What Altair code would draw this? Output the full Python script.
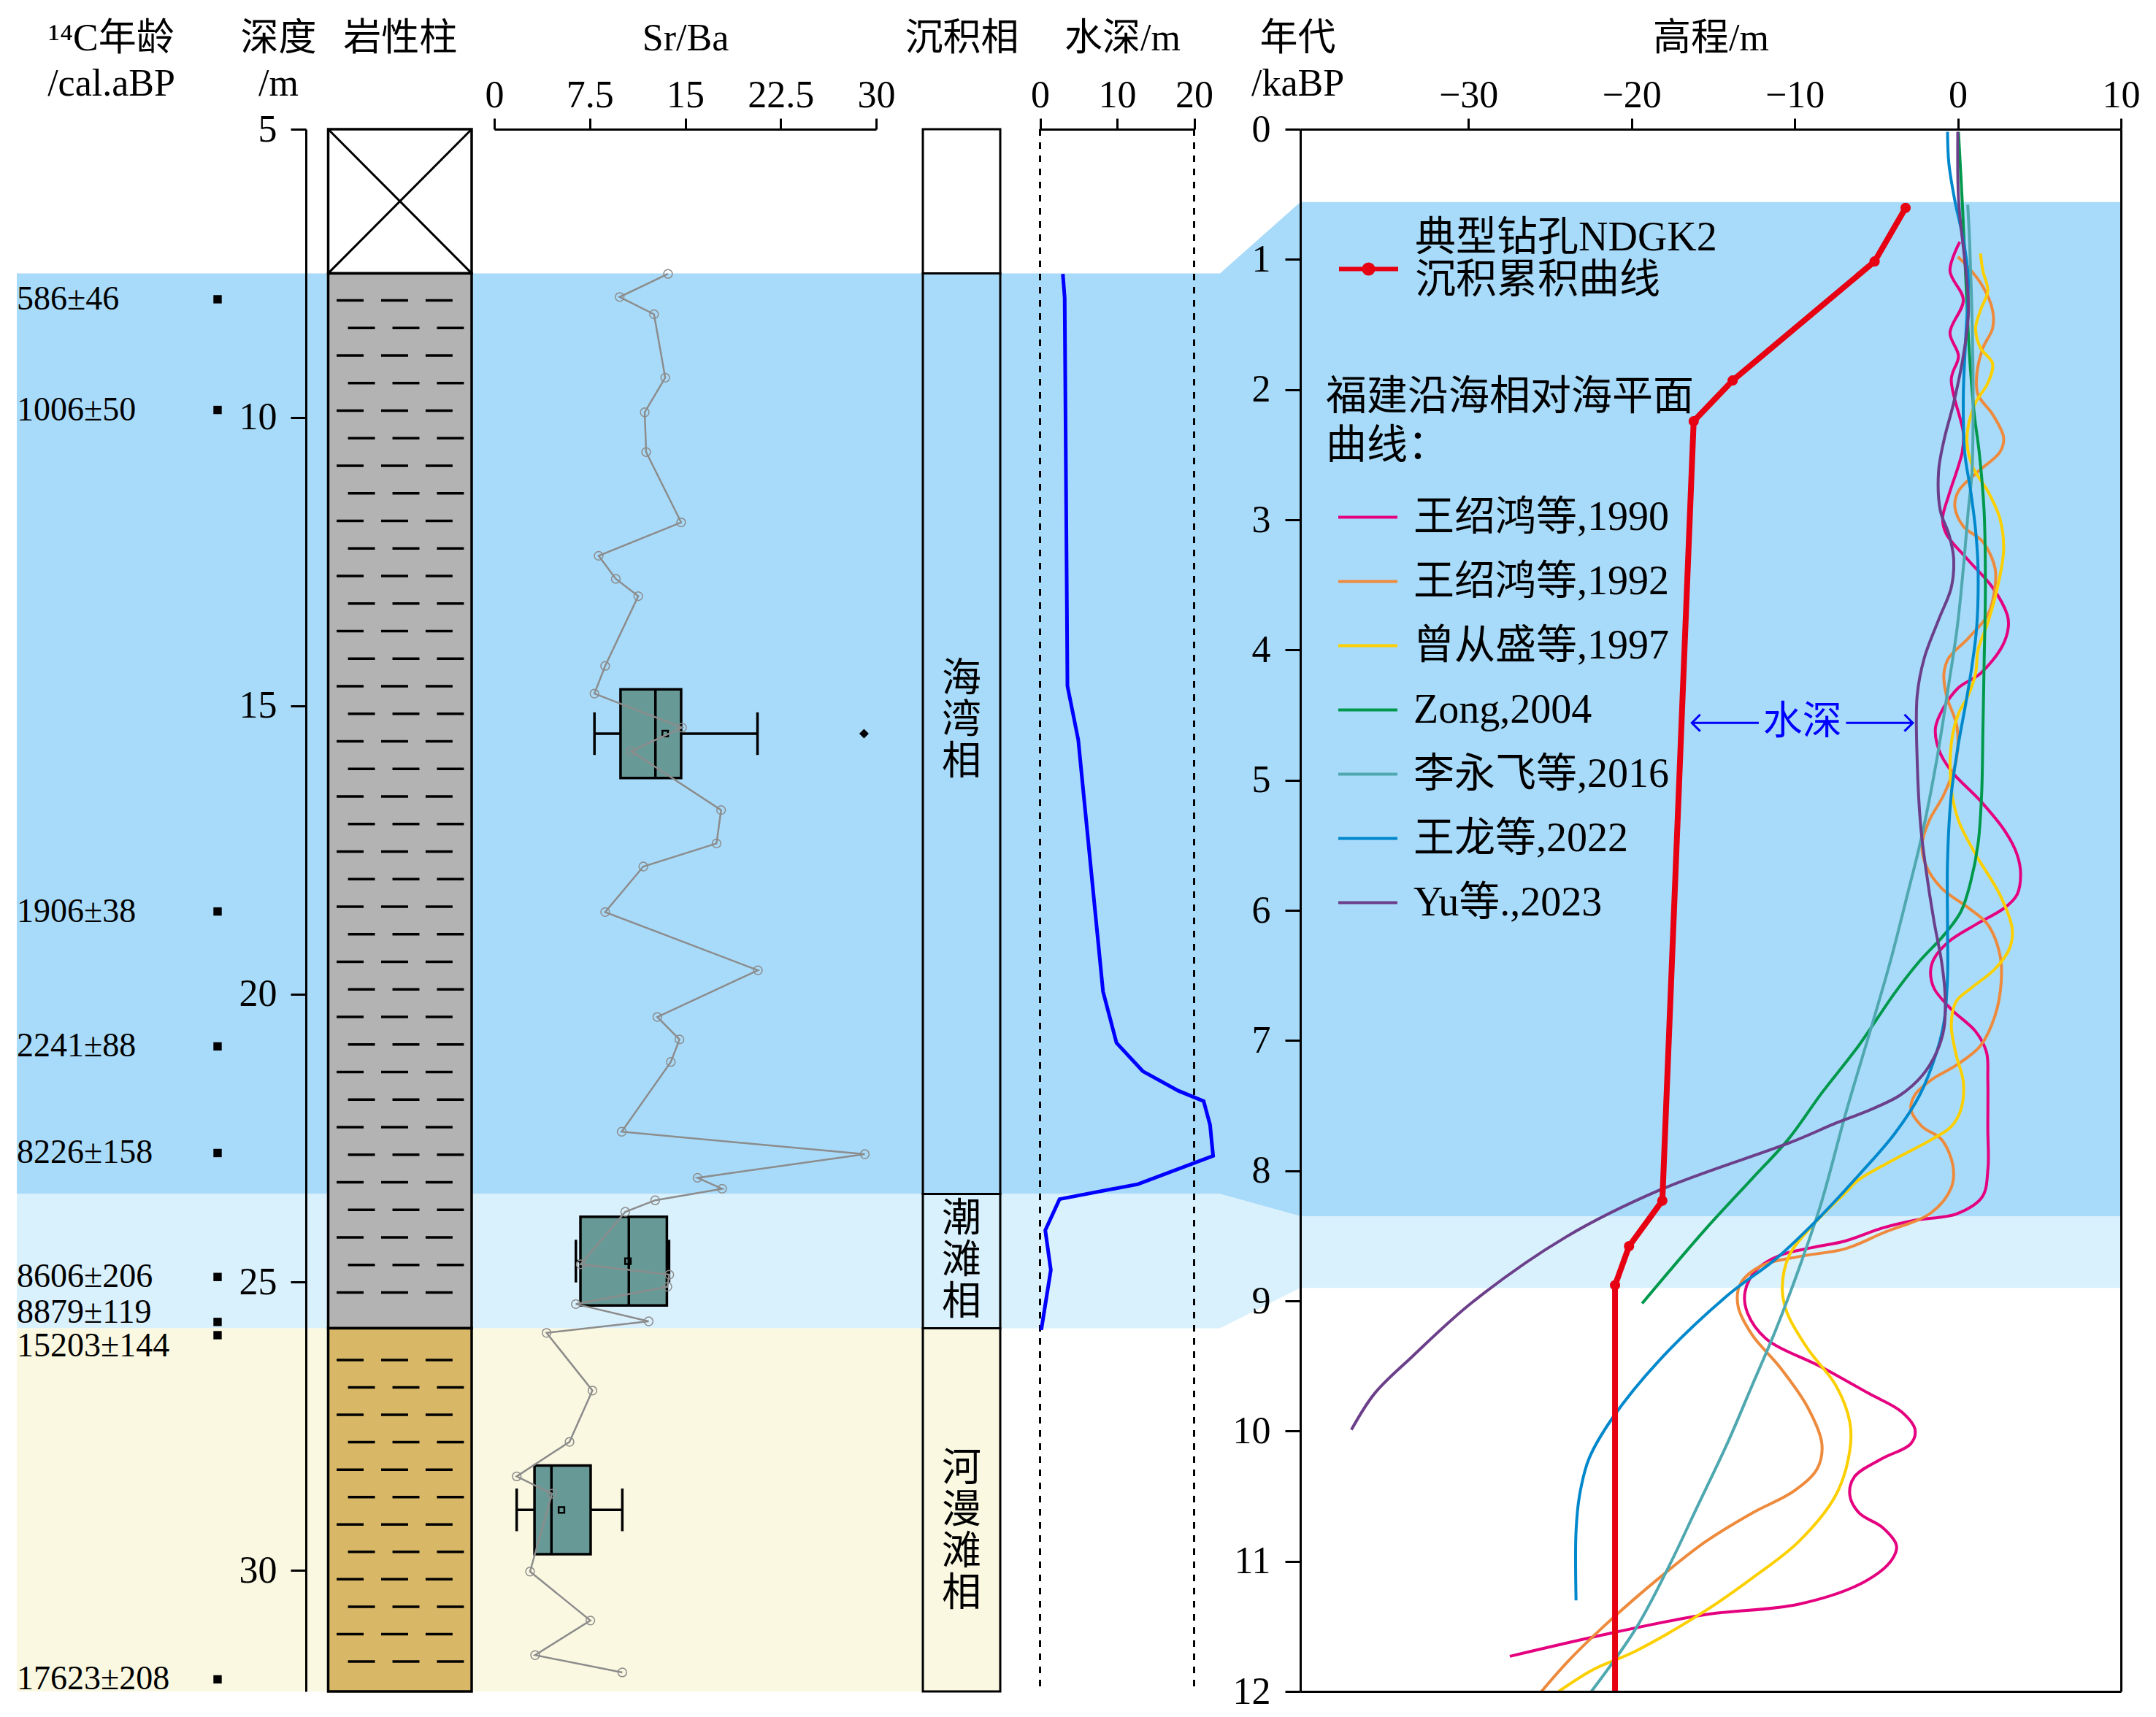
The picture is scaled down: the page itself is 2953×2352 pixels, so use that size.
import altair as alt
import pandas as pd

FONT = "Liberation Serif, Noto Sans CJK SC"

# ---------------- data ----------------
facies_names = ["海湾相", "潮滩相", "河漫滩相"]
facies_top = [7.5, 23.47, 25.8]
facies_bottom = [23.47, 25.8, 32.1]
band_colors = ["#A8DBFA", "#D9F0FD", "#FAF8E1"]

lith_top = [5.0, 7.5, 25.8]
lith_bottom = [7.5, 25.8, 32.1]
lith_fill = ["#FFFFFF", "#B3B3B3", "#D8B766"]

age_band_top = [0.56, 8.35]
age_band_bottom = [8.35, 8.9]

date_labels = ["586±46", "1006±50", "1906±38", "2241±88", "8226±158",
               "8606±206", "8879±119", "15203±144", "17623±208"]
date_depth = [7.95, 9.87, 18.57, 20.91, 22.76, 24.91, 25.69, 25.92, 31.89]

srba_depth = [7.51, 7.91, 8.21, 9.31, 9.91, 10.60, 11.82, 12.40, 12.80, 13.10,
              14.31, 14.79, 15.38, 15.79, 16.81, 17.39, 17.79, 18.58, 19.59, 20.40,
              20.79, 21.18, 22.39, 22.78, 23.19, 23.38, 23.58, 23.78, 24.69, 24.87,
              25.08, 25.38, 25.68, 25.88, 26.88, 27.77, 28.37, 28.67, 30.02, 30.87,
              31.47, 31.77]
srba_value = [13.65, 9.85, 12.55, 13.43, 11.82, 11.93, 14.68, 8.20, 9.55, 11.31,
              8.71, 7.87, 14.75, 10.76, 17.82, 17.46, 11.71, 8.71, 20.71, 12.81,
              14.55, 13.87, 10.01, 29.11, 15.97, 17.90, 12.64, 10.29, 6.79, 13.75,
              13.60, 6.41, 12.13, 4.11, 7.71, 5.91, 1.76, 4.53, 2.81, 7.55,
              3.21, 10.06]

box_lo = [7.87, 6.41, 1.76]
box_q1 = [9.92, 6.77, 3.16]
box_median = [12.66, 10.57, 4.49]
box_q3 = [14.68, 13.56, 7.57]
box_hi = [20.68, 13.73, 10.06]
box_mean = [13.43, 10.50, 5.28]
outlier_value = [29.05]

wd_depth = [7.51, 7.93, 14.66, 15.59, 19.96, 20.85, 21.34, 21.68, 21.86, 22.27,
            22.81, 23.30, 23.56, 24.10, 24.79, 25.83]
wd_value = [2.96, 3.20, 3.56, 4.96, 8.18, 9.93, 13.33, 17.95, 21.24, 22.07,
            22.47, 12.71, 2.53, 0.68, 1.40, 0.16]

ndgk2_age = [0.604, 1.016, 1.930, 2.243, 8.23, 8.58, 8.88, 12.0]
ndgk2_elev = [-3.20, -5.10, -13.80, -16.19, -18.11, -20.15, -21.01, -21.01]

wang1990_age = [0.866, 1.089, 1.311, 1.564, 1.742, 1.92, 2.335, 2.48, 2.81, 2.99,
                3.11, 3.31, 3.52, 3.73, 3.82, 3.97, 4.18, 4.29, 4.45, 4.60,
                4.77, 4.93, 5.16, 5.39, 5.57, 5.72, 5.88, 5.98, 6.11, 6.24,
                6.37, 6.47, 6.60, 6.76, 6.93, 7.09, 7.30, 7.68, 7.98, 8.20,
                8.33, 8.38, 8.44, 8.54, 8.59, 8.65, 8.76, 8.93, 9.09, 9.29,
                9.51, 9.71, 9.85, 9.99, 10.10, 10.21, 10.35, 10.49, 10.63, 10.74,
                10.88, 10.99, 11.16, 11.33, 11.41, 11.55, 11.73]
wang1990_elev = [0.12, -0.48, 0.34, -0.48, 0.04, -0.40, 0.34, 0.27, -0.55, -0.93,
                 -0.70, 0.64, 2.13, 3.03, 3.10, 2.73, 1.39, 0.04, -0.90, -1.37,
                 -1.15, -0.40, 1.39, 2.88, 3.63, 3.85, 3.63, 2.88, 1.09, -0.55,
                 -1.45, -1.67, -1.45, -0.40, 1.09, 1.76, 1.84, 1.84, 1.85, 1.50,
                 -0.05, -2.62, -4.62, -6.90, -8.90, -10.90, -12.33, -13.04, -12.90, -11.76,
                 -8.33, -5.47, -3.47, -2.62, -2.90, -4.62, -6.33, -6.62, -6.04, -4.62,
                 -3.76, -4.05, -5.76, -9.76, -15.47, -21.18, -27.46]

wang1992_age = [0.98, 1.06, 1.21, 1.39, 1.53, 1.68, 1.89, 2.04, 2.19, 2.37,
                2.48, 2.63, 2.78, 2.90, 3.05, 3.17, 3.37, 3.52, 3.73, 3.91,
                4.06, 4.18, 4.35, 4.59, 4.85, 5.11, 5.31, 5.49, 5.65, 5.83,
                5.98, 6.11, 6.34, 6.55, 6.81, 7.04, 7.19, 7.30, 7.42, 7.53,
                7.66, 7.76, 7.96, 8.13, 8.32, 8.48, 8.60, 8.66, 8.73, 8.87,
                9.04, 9.26, 9.51, 9.82, 10.10, 10.29, 10.46, 10.63, 10.85, 11.13,
                11.44, 11.75, 12.0]
wang1992_elev = [0.00, 0.64, 1.54, 2.13, 2.13, 1.54, 1.16, 1.24, 2.13, 2.81,
                 2.58, 1.24, 0.04, -0.18, 0.34, 1.54, 2.28, 2.28, 1.84, 0.64,
                 -0.55, -0.85, -0.70, -0.05, -0.10, -0.85, -1.75, -2.19, -1.97, -1.00,
                 0.64, 1.84, 2.58, 2.66, 2.28, 1.39, -0.10, -1.60, -2.64, -2.87,
                 -2.19, -1.00, -0.30, -0.40, -1.60, -4.62, -6.90, -9.76, -12.04, -13.33,
                 -13.47, -12.61, -10.90, -9.19, -8.33, -8.62, -10.04, -12.61, -15.47, -18.32,
                 -21.18, -23.75, -25.52]

zeng1997_age = [0.955, 1.09, 1.24, 1.39, 1.53, 1.68, 1.80, 1.95, 2.10, 2.28,
                2.42, 2.60, 2.78, 2.99, 3.23, 3.52, 3.79, 4.00, 4.18, 4.35,
                4.49, 4.72, 5.06, 5.31, 5.57, 5.88, 6.14, 6.29, 6.45, 6.60,
                6.70, 6.88, 7.11, 7.32, 7.53, 7.66, 7.76, 7.91, 8.07, 8.17,
                8.42, 8.65, 8.90, 9.09, 9.37, 9.65, 9.93, 10.15, 10.49, 10.85,
                11.13, 11.38, 11.69, 11.83, 12.0]
zeng1997_elev = [1.39, 1.54, 1.84, 1.39, 1.09, 1.39, 2.13, 1.84, 1.09, 0.64,
                 0.57, 0.94, 1.84, 2.58, 2.81, 2.43, 1.84, 1.24, 1.09, 0.64,
                 0.04, -0.40, -0.40, 0.04, 1.09, 2.58, 3.33, 3.18, 2.28, 0.79,
                 -0.10, -0.40, -0.10, 0.34, 0.19, -0.40, -1.60, -3.84, -6.08, -6.90,
                 -8.90, -10.33, -10.76, -10.47, -9.19, -7.47, -6.62, -6.62, -7.47, -9.76,
                 -12.61, -15.47, -19.75, -22.32, -24.46]

zong2004_age = [0.02, 0.55, 1.15, 1.74, 2.19, 2.48, 2.93, 3.52, 4.12, 4.61,
                5.11, 5.49, 5.78, 6.01, 6.19, 6.39, 6.63, 7.04, 7.40, 7.76,
                8.06, 8.45, 9.02]
zong2004_elev = [0.04, 0.27, 0.49, 0.72, 1.01, 1.31, 1.61, 1.69, 1.61, 1.54,
                 1.46, 1.24, 0.79, 0.19, -0.85, -2.34, -3.84, -6.08, -8.32, -10.40,
                 -12.60, -15.47, -19.35]

li2016_age = [0.58, 0.85, 1.44, 2.04, 2.63, 2.93, 3.37, 3.82, 4.30, 4.85,
              5.42, 5.88, 6.39, 6.91, 7.55, 8.26, 8.76, 9.23, 9.65, 10.07,
              10.60, 11.05, 11.52, 12.0]
li2016_elev = [0.61, 0.72, 0.87, 0.94, 0.87, 0.64, 0.34, -0.03, -0.60, -1.30,
               -2.19, -3.09, -4.13, -5.33, -6.85, -8.40, -9.76, -11.18, -12.61, -14.04,
               -16.04, -17.75, -19.75, -22.46]

wanglong2022_age = [0.02, 0.26, 0.55, 0.85, 1.15, 1.59, 2.04, 2.48, 2.78, 3.08,
                    3.37, 3.82, 4.12, 4.41, 4.72, 5.11, 5.62, 6.14, 6.52, 6.86,
                    7.09, 7.42, 7.72, 8.03, 8.34, 8.68, 8.95, 9.46, 9.90, 10.21,
                    10.49, 10.77, 11.30]
wanglong2022_elev = [-0.63, -0.55, -0.18, 0.34, 0.64, 0.49, 0.34, 0.42, 0.79, 1.09,
                     1.24, 1.16, 0.87, 0.49, 0.04, -0.40, -0.63, -0.63, -0.63, -0.85,
                     -1.30, -2.34, -3.90, -6.04, -8.33, -11.18, -14.04, -18.32, -21.17, -22.60,
                     -23.18, -23.40, -23.40]

yu2023_age = [0.02, 0.55, 1.00, 1.30, 1.44, 1.74, 2.10, 2.39, 2.63, 2.93,
              3.11, 3.29, 3.52, 3.76, 4.06, 4.35, 4.85, 5.36, 5.67, 6.09,
              6.39, 6.65, 6.91, 7.09, 7.27, 7.42, 7.53, 7.64, 7.78, 8.15,
              8.51, 9.01, 9.43, 9.71, 9.99]
yu2023_elev = [0.00, 0.05, 0.42, 0.64, 0.64, 0.34, -0.25, -0.85, -1.18, -1.07,
               -0.55, -0.26, -0.40, -1.15, -2.05, -2.49, -2.49, -2.27, -1.97, -1.45,
               -1.00, -0.78, -0.85, -1.30, -2.19, -3.54, -5.33, -7.57, -10.20, -18.30,
               -24.03, -29.75, -33.46, -35.74, -37.17]

series_names = ["王绍鸿等,1990", "王绍鸿等,1992", "曾从盛等,1997", "Zong,2004",
                "李永飞等,2016", "王龙等,2022", "Yu等.,2023"]
series_colors = ["#E4007F", "#EE8A3C", "#FCD000", "#00994C", "#4FA8B0", "#0088CC", "#6B3F8A"]
series_ages = [wang1990_age, wang1992_age, zeng1997_age, zong2004_age, li2016_age, wanglong2022_age, yu2023_age]
series_elevs = [wang1990_elev, wang1992_elev, zeng1997_elev, zong2004_elev, li2016_elev, wanglong2022_elev, yu2023_elev]

# water-depth annotation (age, elevation of arrow tips)
arrow_age = 4.56
arrow_left = -16.3
arrow_right = -2.76
arrow_gap = [-12.2, -6.85]

# ---------------- layout ----------------
W, H = 2882, 2140
DEPTH_DOM = [5, 32.1]
AGE_DOM = [0, 12]
ELEV_DOM = [-40.3, 10]
PX_PER_M = H / (DEPTH_DOM[1] - DEPTH_DOM[0])

R_DATE = [0, 275]
R_LITH = [426.5, 623]
R_SRBA = [654, 1177]
R_FAC = [1241, 1347]
R_WD = [1401.5, 1612.5]
R_CONN = [1648, 1758]
R_ELEV = [1758, W]


def sc(dom, rng=None, rev=False):
    kw = dict(domain=dom, nice=False, zero=False)
    if rng is not None:
        kw["range"] = rng
    if rev:
        kw["reverse"] = True
    return alt.Scale(**kw)


YD = sc(DEPTH_DOM, rev=True)
YA = sc(AGE_DOM, rev=True)
X_DATE = sc([0, 1], R_DATE)
X_LITH = sc([0, 1], R_LITH)
X_SRBA = sc([0, 30], R_SRBA)
X_FAC = sc([0, 1], R_FAC)
X_WD = sc([0, 20], R_WD)
X_CONN = sc([0, 1], R_CONN)
X_ELEV = sc(ELEV_DOM, R_ELEV)

AX = dict(domainColor="black", domainWidth=3, tickColor="black", tickWidth=3,
          labelColor="black", labelFont=FONT, labelFontSize=52, titleFont=FONT,
          titleFontSize=52, titleFontWeight="normal", titleColor="black", grid=False,
          zindex=2, labelOverlap=False, labelFlush=False, titleLimit=3000)


def head_axis(title, **kw):
    return alt.Axis(orient="top", domain=False, ticks=False, labels=False, title=title,
                    titleY=-109, titleBaseline="alphabetic", titleFont=FONT, titleFontSize=52,
                    titleFontWeight="normal", titleColor="black", titleLimit=3000,
                    titleLineHeight=62, grid=False, **kw)


def age_eq(a):
    return DEPTH_DOM[0] + a * (DEPTH_DOM[1] - DEPTH_DOM[0]) / (AGE_DOM[1] - AGE_DOM[0])


layers = []

# background bands (left)
bl = pd.DataFrame({"top": facies_top[:2], "bot": facies_bottom[:2], "c": band_colors[:2]})
layers.append(alt.Chart(bl).mark_rect(opacity=1, strokeWidth=0).encode(
    x=alt.value(0), x2=alt.value(R_CONN[0]),
    y=alt.Y("top:Q", scale=YD, axis=None, stack=None), y2="bot:Q",
    color=alt.Color("c:N", scale=None)))
bc = pd.DataFrame({"top": facies_top[2:], "bot": facies_bottom[2:], "c": band_colors[2:]})
layers.append(alt.Chart(bc).mark_rect(opacity=1, strokeWidth=0).encode(
    x=alt.value(0), x2=alt.value(R_FAC[1]),
    y=alt.Y("top:Q", scale=YD, axis=None, stack=None), y2="bot:Q",
    color=alt.Color("c:N", scale=None)))
# right bands
br = pd.DataFrame({"top": age_band_top, "bot": age_band_bottom, "c": band_colors[:2]})
layers.append(alt.Chart(br).mark_rect(opacity=1, strokeWidth=0).encode(
    x=alt.value(R_ELEV[0]), x2=alt.value(R_ELEV[1]),
    y=alt.Y("top:Q", scale=YA, axis=None, stack=None), y2="bot:Q",
    color=alt.Color("c:N", scale=None)))
# connector
rows = []
for i in range(2):
    rows.append({"b": i, "x": 0, "top": facies_top[i], "bot": facies_bottom[i], "c": band_colors[i]})
    rows.append({"b": i, "x": 1, "top": age_eq(age_band_top[i]), "bot": age_eq(age_band_bottom[i]), "c": band_colors[i]})
layers.append(alt.Chart(pd.DataFrame(rows)).mark_area(opacity=1, strokeWidth=0).encode(
    x=alt.X("x:Q", scale=X_CONN, axis=None),
    y=alt.Y("top:Q", scale=YD, axis=None, stack=None), y2="bot:Q",
    color=alt.Color("c:N", scale=None), detail="b:N"))

# lithology column (carries depth axis)
lith = pd.DataFrame({"x0": 0, "x1": 1, "top": lith_top, "bot": lith_bottom, "c": lith_fill})
layers.append(alt.Chart(lith).mark_rect(opacity=1, stroke="black", strokeWidth=3.5).encode(
    x=alt.X("x0:Q", scale=X_LITH, axis=head_axis("岩性柱")), x2="x1:Q",
    y=alt.Y("top:Q", scale=YD, stack=None, axis=alt.Axis(
        orient="left", offset=-(R_LITH[0] - 30.5), values=[5, 10, 15, 20, 25, 30],
        tickSize=21, labelPadding=19, title=["深度", "/m"], titleAngle=0, titleX=-38,
        titleY=-109, titleAlign="center", titleBaseline="alphabetic", titleLineHeight=62, **AX)),
    y2="bot:Q", color=alt.Color("c:N", scale=None)))
xl = pd.DataFrame({"x0": [0, 1], "x1": [1, 0], "y0": [lith_top[0]] * 2, "y1": [lith_bottom[0]] * 2})
layers.append(alt.Chart(xl).mark_rule(color="black", strokeWidth=3).encode(
    x=alt.X("x0:Q", scale=X_LITH, axis=None), x2="x1:Q",
    y=alt.Y("y0:Q", scale=YD, axis=None), y2="y1:Q"))
dash_rows = []


def add_rows(start, step, n):
    for i in range(n):
        d = start + i * step
        starts = [0.059, 0.369, 0.679] if i % 2 == 0 else [0.138, 0.448, 0.758]
        for s in starts:
            dash_rows.append({"d": d, "xa": s, "xb": s + 0.188})


add_rows(7.97, 0.478, 37)
add_rows(26.35, 0.4755, 12)
layers.append(alt.Chart(pd.DataFrame(dash_rows)).mark_rule(color="black", strokeWidth=3.5).encode(
    x=alt.X("xa:Q", scale=X_LITH, axis=None), x2="xb:Q",
    y=alt.Y("d:Q", scale=YD, axis=None)))

# facies column
fac = pd.DataFrame({"x0": 0, "x1": 1, "top": [lith_top[0]] + facies_top,
                    "bot": [lith_bottom[0]] + facies_bottom})
layers.append(alt.Chart(fac).mark_rect(fillOpacity=0, stroke="black", strokeWidth=3).encode(
    x=alt.X("x0:Q", scale=X_FAC, axis=head_axis("沉积相")), x2="x1:Q",
    y=alt.Y("top:Q", scale=YD, axis=None, stack=None), y2="bot:Q"))
FAC_LH = 57
fac_nudge_px = [-17, 0, 30]
ft = pd.DataFrame({"x": 0.5, "t": ["\n".join(n) for n in facies_names],
                   "first": [(a + b) / 2 + (nd_ - (len(n) - 1) / 2 * FAC_LH) / PX_PER_M
                             for a, b, n, nd_ in zip(facies_top, facies_bottom, facies_names, fac_nudge_px)]})
layers.append(alt.Chart(ft).mark_text(font=FONT, fontSize=54, lineBreak="\n", lineHeight=FAC_LH,
                                      align="center", baseline="middle", color="black").encode(
    x=alt.X("x:Q", scale=X_FAC, axis=None), y=alt.Y("first:Q", scale=YD, axis=None), text="t:N"))

# 14C dates
nudge_px = {6: -13, 7: 15}
dates = pd.DataFrame({"lab": date_labels, "d": date_depth,
                      "ld": [d + nudge_px.get(i, 0) / PX_PER_M for i, d in enumerate(date_depth)],
                      "x0": 0, "x1": 1})
layers.append(alt.Chart(dates).mark_text(font=FONT, fontSize=46, align="left", baseline="middle",
                                         color="black").encode(
    x=alt.X("x0:Q", scale=X_DATE, axis=head_axis(["¹⁴C年龄", "/cal.aBP"], titleX=129)),
    y=alt.Y("ld:Q", scale=YD, axis=None), text="lab:N"))
layers.append(alt.Chart(dates).mark_square(size=130, color="black", opacity=1).encode(
    x=alt.X("x1:Q", scale=X_DATE, axis=None), y=alt.Y("d:Q", scale=YD, axis=None)))

# Sr/Ba box plots
HB, HC = 0.77, 0.37
mids = [(a + b) / 2 for a, b in zip(facies_top, facies_bottom)]
bx = pd.DataFrame({"c": mids, "lo": box_lo, "q1": box_q1, "med": box_median, "q3": box_q3,
                   "hi": box_hi, "mean": box_mean})
bx["b0"] = bx["c"] - HB
bx["b1"] = bx["c"] + HB
bx["c0"] = bx["c"] - HC
bx["c1"] = bx["c"] + HC
layers.append(alt.Chart(bx).mark_rule(color="black", strokeWidth=3.5).encode(
    x=alt.X("lo:Q", scale=X_SRBA, axis=None), x2="hi:Q", y=alt.Y("c:Q", scale=YD, axis=None)))
layers.append(alt.Chart(bx).mark_rect(fill="#679A97", stroke="black", strokeWidth=3.5, opacity=1).encode(
    x=alt.X("q1:Q", scale=X_SRBA, axis=None), x2="q3:Q",
    y=alt.Y("b0:Q", scale=YD, axis=None, stack=None), y2="b1:Q"))
layers.append(alt.Chart(bx).mark_rule(color="black", strokeWidth=3.5).encode(
    x=alt.X("med:Q", scale=X_SRBA, axis=None), y=alt.Y("b0:Q", scale=YD, axis=None), y2="b1:Q"))
caps = pd.concat([bx[["lo", "c0", "c1"]].rename(columns={"lo": "v"}),
                  bx[["hi", "c0", "c1"]].rename(columns={"hi": "v"})])
layers.append(alt.Chart(caps).mark_rule(color="black", strokeWidth=3.5).encode(
    x=alt.X("v:Q", scale=X_SRBA, axis=None), y=alt.Y("c0:Q", scale=YD, axis=None), y2="c1:Q"))
layers.append(alt.Chart(bx).mark_square(size=60, filled=False, color="black", strokeWidth=2.5, opacity=1).encode(
    x=alt.X("mean:Q", scale=X_SRBA, axis=None), y=alt.Y("c:Q", scale=YD, axis=None)))
outl = pd.DataFrame({"v": outlier_value, "c": [mids[0]]})
layers.append(alt.Chart(outl).mark_point(shape="diamond", size=170, filled=True, color="black", opacity=1).encode(
    x=alt.X("v:Q", scale=X_SRBA, axis=None), y=alt.Y("c:Q", scale=YD, axis=None)))

# Sr/Ba profile
sr = pd.DataFrame({"d": srba_depth, "v": srba_value})
layers.append(alt.Chart(sr).mark_line(color="#8C8C8C", strokeWidth=2.5).encode(
    x=alt.X("v:Q", scale=X_SRBA, axis=alt.Axis(
        orient="top", values=[0, 7.5, 15, 22.5, 30], labelExpr="'' + datum.value", tickSize=15,
        labelPadding=16, labelBaseline="alphabetic", title="Sr/Ba", titleY=-109,
        titleBaseline="alphabetic", **AX)),
    y=alt.Y("d:Q", scale=YD, axis=None), order="d:Q"))
layers.append(alt.Chart(sr).mark_point(shape="circle", size=140, filled=False, color="#8C8C8C",
                                       strokeWidth=1.5, opacity=1).encode(
    x=alt.X("v:Q", scale=X_SRBA, axis=None), y=alt.Y("d:Q", scale=YD, axis=None)))

# water depth
dl = pd.DataFrame({"v": [0, 20], "y0": DEPTH_DOM[0], "y1": DEPTH_DOM[1]})
layers.append(alt.Chart(dl).mark_rule(color="black", strokeWidth=3, strokeDash=[9, 9]).encode(
    x=alt.X("v:Q", scale=X_WD, axis=alt.Axis(
        orient="top", values=[0, 10, 20], tickSize=15, labelPadding=16, labelBaseline="alphabetic",
        title="水深/m", titleX=1514, titleY=-109, titleBaseline="alphabetic", **AX)),
    y=alt.Y("y0:Q", scale=YD, axis=None), y2="y1:Q"))
wd = pd.DataFrame({"d": wd_depth, "v": wd_value})
layers.append(alt.Chart(wd).mark_line(color="#0000FF", strokeWidth=5).encode(
    x=alt.X("v:Q", scale=X_WD, axis=None), y=alt.Y("d:Q", scale=YD, axis=None), order="d:Q"))

# sea-level curves
cr = []
for n, ages, elevs in zip(series_names, series_ages, series_elevs):
    for a, e in zip(ages, elevs):
        cr.append({"s": n, "age": a, "elev": e})
layers.append(alt.Chart(pd.DataFrame(cr)).mark_line(strokeWidth=4, interpolate="catmull-rom").encode(
    x=alt.X("elev:Q", scale=X_ELEV, axis=alt.Axis(
        orient="top", values=[-30, -20, -10, 0, 10], tickSize=15, labelPadding=16,
        labelBaseline="alphabetic", title="高程/m", titleY=-109, titleBaseline="alphabetic", **AX)),
    y=alt.Y("age:Q", scale=YA, axis=alt.Axis(
        orient="left", offset=-R_ELEV[0], values=list(range(13)), tickSize=21, labelPadding=20,
        title=["年代", "/kaBP"], titleAngle=0, titleX=-4, titleY=-109, titleAlign="center",
        titleBaseline="alphabetic", titleLineHeight=62, **AX)),
    color=alt.Color("s:N", scale=alt.Scale(domain=series_names, range=series_colors), legend=alt.Legend(
        orient="none", legendX=1793, legendY=340, title=["福建沿海相对海平面", "曲线："],
        titleFont=FONT, titleFontSize=56, titleFontWeight="normal", titleColor="black",
        titleLineHeight=67, titlePadding=26, titleAnchor="start", titleLimit=3000,
        labelFont=FONT, labelFontSize=56,
        labelColor="black", labelLimit=3000, labelOffset=20, symbolType="stroke", symbolSize=6561,
        symbolStrokeWidth=4, symbolOffset=15, rowPadding=17, padding=0)),
    order="age:Q"))

# NDGK2 curve
nd = pd.DataFrame({"age": ndgk2_age, "elev": ndgk2_elev, "k": "NDGK2"})
layers.append(alt.Chart(nd).mark_line(strokeWidth=8).encode(
    x=alt.X("elev:Q", scale=X_ELEV, axis=alt.Axis(orient="bottom", labels=False, ticks=False, title=None,
                                                  domainColor="black", domainWidth=3, grid=False, zindex=2)),
    y=alt.Y("age:Q", scale=YA, axis=alt.Axis(orient="right", labels=False, ticks=False, title=None,
                                             domainColor="black", domainWidth=3, grid=False, zindex=2)),
    color=alt.Color("k:N", scale=alt.Scale(domain=["NDGK2"], range=["#E60012"]), legend=alt.Legend(
        orient="none", legendX=1808, legendY=135, title=None,
        labelExpr="['典型钻孔NDGK2', '沉积累积曲线']", labelFont=FONT, labelFontSize=56,
        labelColor="black", labelLimit=3000, labelOffset=20, labelBaseline="line-bottom",
        symbolType="M-1,0.32L1,0.32M-0.15,0.32A0.15,0.15,0,1,1,0.15,0.32A0.15,0.15,0,1,1,-0.15,0.32Z",
        symbolSize=6561, symbolStrokeWidth=6, symbolFillColor="#E60012", padding=0)),
    order="age:Q"))
layers.append(alt.Chart(nd.iloc[:-1]).mark_circle(size=200, color="#E60012", opacity=1).encode(
    x=alt.X("elev:Q", scale=X_ELEV, axis=None), y=alt.Y("age:Q", scale=YA, axis=None)))

# water-depth annotation
ar = pd.DataFrame({"a": [arrow_left, arrow_gap[1]], "b": [arrow_gap[0], arrow_right], "age": arrow_age})
layers.append(alt.Chart(ar).mark_rule(color="#0000FF", strokeWidth=3).encode(
    x=alt.X("a:Q", scale=X_ELEV, axis=None), x2="b:Q", y=alt.Y("age:Q", scale=YA, axis=None)))
layers.append(alt.Chart(pd.DataFrame({"e": [arrow_left], "age": [arrow_age]})).mark_point(
    shape="M1,-1L0,0L1,1", size=520, filled=False, color="#0000FF", strokeWidth=3, opacity=1).encode(
    x=alt.X("e:Q", scale=X_ELEV, axis=None), y=alt.Y("age:Q", scale=YA, axis=None)))
layers.append(alt.Chart(pd.DataFrame({"e": [arrow_right], "age": [arrow_age]})).mark_point(
    shape="M-1,-1L0,0L-1,1", size=520, filled=False, color="#0000FF", strokeWidth=3, opacity=1).encode(
    x=alt.X("e:Q", scale=X_ELEV, axis=None), y=alt.Y("age:Q", scale=YA, axis=None)))
layers.append(alt.Chart(pd.DataFrame({"e": [sum(arrow_gap) / 2], "age": [arrow_age], "t": ["水深"]})).mark_text(
    font=FONT, fontSize=54, color="#0000FF", align="center", baseline="middle").encode(
    x=alt.X("e:Q", scale=X_ELEV, axis=None), y=alt.Y("age:Q", scale=YA, axis=None), text="t:N"))

chart = alt.layer(*layers).resolve_scale(
    x="independent", y="independent", color="independent"
).properties(
    width=W, height=H,
    padding={"left": 15, "top": 169, "right": 30, "bottom": 34},
    autosize=alt.AutoSizeParams(type="none"),
    background="white",
).configure_view(strokeWidth=0)

chart.save("out.html", embed_options={"renderer": "svg", "actions": False})
